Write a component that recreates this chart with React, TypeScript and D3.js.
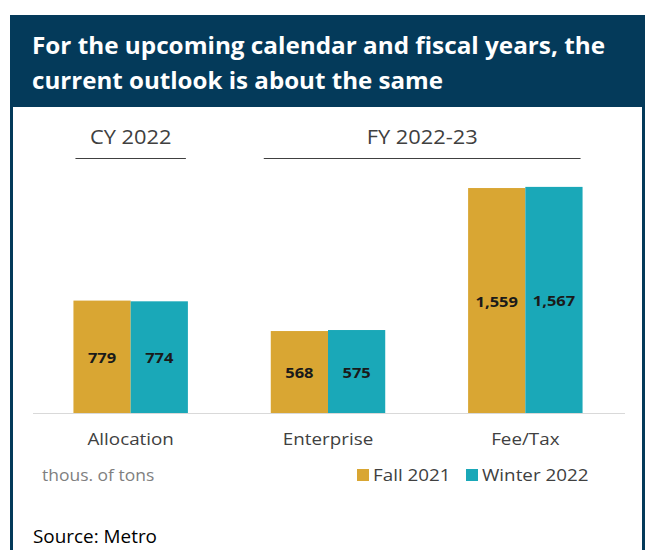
import * as d3 from "d3"

const categories = ["Allocation", "Enterprise", "Fee/Tax"]
const seriesNames = ["Fall 2021", "Winter 2022"]
const fall2021 = [779, 568, 1559]
const winter2022 = [774, 575, 1567]
const groupLabels = ["CY 2022", "FY 2022-23"]
const groupMembers = [["Allocation"], ["Enterprise", "Fee/Tax"]]

const colors = ["#d9a633", "#1aa8b8"]
const navy = "#043a5a"
const font = "'Open Sans', sans-serif"
const stretch = 1.12

// text that is a bit wider than Open Sans, like the original
function T(props: {
  x: number
  y: number
  size: number
  fill: string
  anchor?: string
  weight?: string
  sx?: number
  children: React.ReactNode
}) {
  const sx = props.sx ?? stretch
  return (
    <text
      transform={`translate(${props.x},${props.y}) scale(${sx},1)`}
      textAnchor={props.anchor ?? "start"}
      fontSize={props.size}
      fontWeight={props.weight ?? "normal"}
      fill={props.fill}
    >
      {props.children}
    </text>
  )
}

export default function App() {
  const width = 645
  const height = 550
  const baseline = 413

  const x = d3.scaleBand<string>().domain(categories).range([32, 624]).paddingInner(0.42).paddingOuter(0.21)
  const x1 = d3.scaleBand<string>().domain(seriesNames).range([0, x.bandwidth()])
  const y = d3.scaleLinear().domain([0, 1600]).range([baseline, baseline - 0.1443 * 1600])

  const series = [fall2021, winter2022]
  const fmt = d3.format(",")

  return (
    <svg width={width} height={height} style={{ position: "absolute", left: 0, top: 0 }} fontFamily={font}>
      <rect x={0} y={0} width={width} height={height} fill="#fff" />
      <rect x={10} y={15} width={width - 10} height={92} fill={navy} />
      <line x1={11.5} x2={11.5} y1={15} y2={height} stroke={navy} strokeWidth={3} />
      <line x1={643.5} x2={643.5} y1={15} y2={height} stroke={navy} strokeWidth={3} />
      <text x={32} y={54} fill="#fff" fontSize={24} fontWeight="bold" textLength={573} lengthAdjust="spacingAndGlyphs">
        For the upcoming calendar and fiscal years, the
      </text>
      <text x={32} y={89} fill="#fff" fontSize={24} fontWeight="bold" textLength={411} lengthAdjust="spacingAndGlyphs">
        current outlook is about the same
      </text>

      {groupLabels.map((g, gi) => {
        const members = groupMembers[gi]
        const left = x(members[0])! - (gi === 0 ? -2 : 7)
        const right = x(members[members.length - 1])! + x.bandwidth() - 2
        return (
          <g key={g}>
            <T x={(left + right) / 2} y={144} anchor="middle" size={19.5} fill="#404040">
              {g}
            </T>
            <line x1={left} x2={right} y1={158.5} y2={158.5} stroke="#404040" strokeWidth={1.2} />
          </g>
        )
      })}

      {series.map((vals, si) =>
        vals.map((v, i) => {
          const bx = x(categories[i])! + x1(seriesNames[si])!
          return (
            <g key={`${si}-${i}`}>
              <rect x={bx} y={y(v)} width={x1.bandwidth()} height={baseline - y(v)} fill={colors[si]} />
              <T
                x={bx + x1.bandwidth() / 2}
                y={(y(v) + baseline) / 2 + 6}
                anchor="middle"
                size={15}
                weight="bold"
                fill="#1a1a1a"
                sx={1.1}
              >
                {fmt(v)}
              </T>
            </g>
          )
        })
      )}

      <line x1={33} x2={625} y1={baseline + 0.5} y2={baseline + 0.5} stroke="#d9d9d9" strokeWidth={1.2} />

      {categories.map((c) => (
        <T key={c} x={x(c)! + x.bandwidth() / 2} y={445} anchor="middle" size={16.8} fill="#404040">
          {c}
        </T>
      ))}

      <T x={42} y={481} size={15.6} fill="#7f7f7f">
        thous. of tons
      </T>

      {seriesNames.map((s, si) => {
        const lx = [357, 466][si]
        return (
          <g key={s}>
            <rect x={lx} y={469} width={12} height={12} fill={colors[si]} />
            <T x={lx + 16} y={481} size={16.8} fill="#404040">
              {s}
            </T>
          </g>
        )
      })}

      <T x={33} y={543} size={17.5} fill="#000" sx={1.08}>
        Source: Metro
      </T>
    </svg>
  )
}
